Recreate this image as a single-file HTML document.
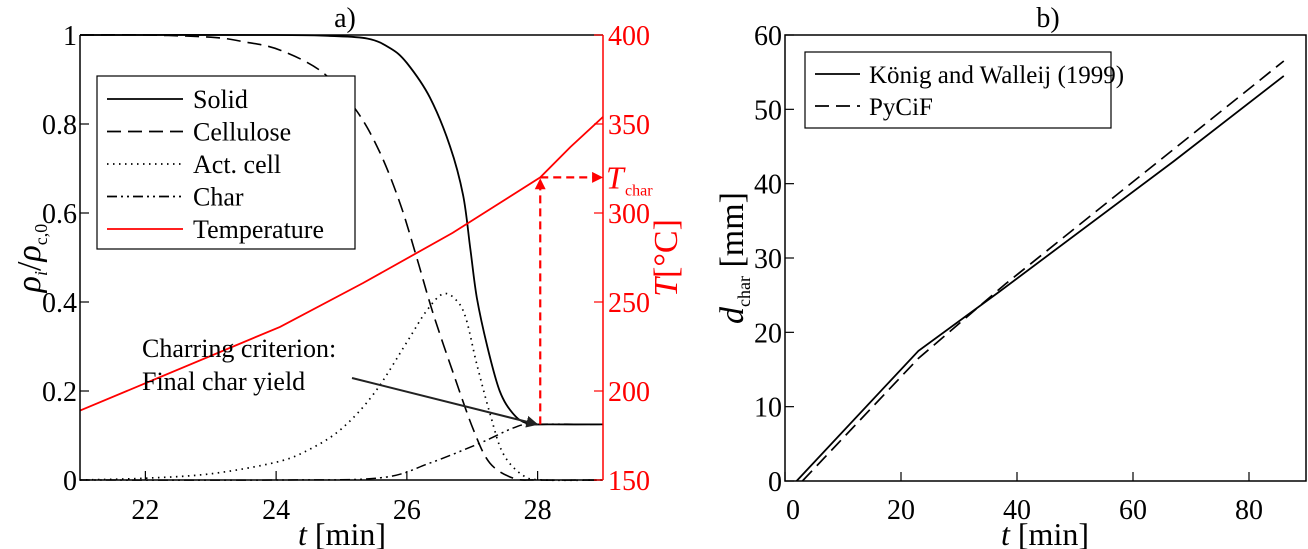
<!DOCTYPE html>
<html><head><meta charset="utf-8"><style>
body{margin:0;background:#fff;}
svg{display:block;font-family:"Liberation Serif",serif;}
</style></head><body>
<svg id="fig" width="1308" height="549" viewBox="0 0 1308 549" xmlns="http://www.w3.org/2000/svg">
<defs>
<marker id="ah" viewBox="0 0 10 10" refX="9" refY="5" markerWidth="6" markerHeight="6" orient="auto"><path d="M0,0L10,5L0,10z" fill="#222"/></marker>
<marker id="ahr" viewBox="0 0 10 10" refX="9" refY="5" markerWidth="5" markerHeight="5" orient="auto"><path d="M0,0L10,5L0,10z" fill="red"/></marker>
</defs>
<g id="left"></g>
<g id="right"></g>
</svg>
<script>
// ---- chart a data ----
const aXTicks = [22, 24, 26, 28];
const aYTicks = [0, 0.2, 0.4, 0.6, 0.8, 1];
const aYTickLabels = ["0", "0.2", "0.4", "0.6", "0.8", "1"];
const aTTicks = [150, 200, 250, 300, 350, 400];
const solidT = [21, 24, 24.8, 25.4, 25.75, 26.0, 26.35, 26.66, 26.86, 26.97, 27.07, 27.23, 27.42, 27.62, 27.84, 28.2, 29];
const solidV = [1, 1, 0.998, 0.992, 0.97, 0.937, 0.86, 0.75, 0.64, 0.52, 0.41, 0.30, 0.20, 0.15, 0.127, 0.125, 0.125];
const celluT = [21, 22, 23, 23.5, 24.06, 24.72, 25.23, 25.59, 25.9, 26.15, 26.4, 26.71, 27.02, 27.27, 27.63, 28, 29];
const celluV = [1, 1, 0.995, 0.985, 0.966, 0.915, 0.83, 0.735, 0.62, 0.5, 0.375, 0.24, 0.112, 0.038, 0.004, 0, 0];
const actT = [21, 22, 23, 24, 24.5, 25, 25.5, 26.0, 26.3, 26.55, 26.75, 26.9, 27.07, 27.27, 27.47, 27.78, 28.1, 29];
const actV = [0, 0.004, 0.014, 0.04, 0.068, 0.115, 0.195, 0.31, 0.38, 0.418, 0.405, 0.365, 0.26, 0.15, 0.06, 0.01, 0, 0];
const charT = [21, 24.06, 25.6, 26.35, 27.12, 27.63, 27.93, 29];
const charV = [0, 0, 0.005, 0.038, 0.083, 0.117, 0.125, 0.125];
const tempT = [21, 24.06, 25.33, 26.7, 28.04, 28.5, 29];
const tempV = [189, 236, 260.7, 288.8, 320, 337, 354];
const charTime = [28.04];
const charYield = [0.125];
const charTemp = [320];
// ---- chart b data ----
const bXTicks = [0, 20, 40, 60, 80];
const bYTicks = [0, 10, 20, 30, 40, 50, 60];
const konigT = [2, 23, 37, 67, 86];
const konigD = [0, 17.5, 25.5, 43, 54.5];
const pycifT = [3, 23, 38, 86];
const pycifD = [0, 16.5, 26.5, 56.5];

const NS = "http://www.w3.org/2000/svg";
function mk(parent, tag, attrs, text) {
  const e = document.createElementNS(NS, tag);
  for (const k in attrs) e.setAttribute(k, attrs[k]);
  if (text !== undefined) e.textContent = text;
  parent.appendChild(e);
  return e;
}
const aL = 80, aR = 603, aTop = 35, aBot = 480;
const ax = t => aL + (t - 21) / 8 * (aR - aL);
const ay = v => aBot - v * (aBot - aTop);
const aty = T => aBot - (T - 150) / 250 * (aBot - aTop);
const L = document.getElementById('left');

function poly(g, xs, ys, fx, fy, style, name, smooth) {
  const P = xs.map((x, i) => [fx(x), fy(ys[i])]);
  let d = 'M' + P[0][0].toFixed(1) + ',' + P[0][1].toFixed(1);
  for (let i = 0; i < P.length - 1; i++) {
    if (!smooth) { d += 'L' + P[i + 1][0].toFixed(1) + ',' + P[i + 1][1].toFixed(1); continue; }
    const p0 = P[Math.max(0, i - 1)], p1 = P[i], p2 = P[i + 1], p3 = P[Math.min(P.length - 1, i + 2)];
    const c1 = [p1[0] + (p2[0] - p0[0]) / 6, p1[1] + (p2[1] - p0[1]) / 6];
    const c2 = [p2[0] - (p3[0] - p1[0]) / 6, p2[1] - (p3[1] - p1[1]) / 6];
    d += 'C' + c1.map(v => v.toFixed(1)).join(',') + ' ' + c2.map(v => v.toFixed(1)).join(',') + ' ' + p2[0].toFixed(1) + ',' + p2[1].toFixed(1);
  }
  const p = mk(g, 'path', Object.assign({d: d, fill: 'none'}, style));
  
  
  return p;
}
poly(L, solidT, solidV, ax, ay, {stroke: '#000', 'stroke-width': 1.8}, 'solid-line', true);
poly(L, celluT, celluV, ax, ay, {stroke: '#000', 'stroke-width': 1.6, 'stroke-dasharray': '14,7'}, 'cellulose-line', true);
poly(L, actT, actV, ax, ay, {stroke: '#000', 'stroke-width': 1.7, 'stroke-dasharray': '1.5,4.5'}, 'act-cell-line', true);
poly(L, charT, charV, ax, ay, {stroke: '#000', 'stroke-width': 1.5, 'stroke-dasharray': '10,4,2,4,2,4'}, 'char-line', true);
poly(L, tempT, tempV, ax, aty, {stroke: 'red', 'stroke-width': 1.8}, 'temperature-line', false);
let e = mk(L, 'path', {d: `M${aL},${aTop}H${aR}M${aL},${aTop}V${aBot}H${aR}`, stroke: '#000', 'stroke-width': 1.5, fill: 'none'});
 
e = mk(L, 'line', {x1: aR, y1: aTop, x2: aR, y2: aBot, stroke: 'red', 'stroke-width': 1.5});
 
aXTicks.forEach(t => {
  mk(L, 'line', {x1: ax(t), x2: ax(t), y1: aBot, y2: aBot - 9, stroke: '#000', 'stroke-width': 1.2});
  e = mk(L, 'text', {x: ax(t), y: 519, 'font-size': 28, 'text-anchor': 'middle'}, String(t));
   
});
aYTicks.forEach((v, i) => {
  mk(L, 'line', {x1: aL, x2: aL + 9, y1: ay(v), y2: ay(v), stroke: '#000', 'stroke-width': 1.2});
  e = mk(L, 'text', {x: aL - 3, y: ay(v) + 10, 'font-size': 28, 'text-anchor': 'end'}, aYTickLabels[i]);
   
});
aTTicks.forEach(T => {
  mk(L, 'line', {x1: aR, x2: aR - 9, y1: aty(T), y2: aty(T), stroke: 'red', 'stroke-width': 1.2});
  e = mk(L, 'text', {x: aR + 5, y: aty(T) + 10, 'font-size': 28, fill: 'red'}, String(T));
   
});
const cx = ax(charTime[0]), cy0 = ay(charYield[0]), cy1 = aty(charTemp[0]);
e = mk(L, 'line', {x1: cx, y1: cy0, x2: cx, y2: cy1 + 2, stroke: 'red', 'stroke-width': 2.2, 'stroke-dasharray': '8,5', 'marker-end': 'url(#ahr)'});
 
e = mk(L, 'line', {x1: cx, y1: cy1, x2: aR - 1, y2: cy1, stroke: 'red', 'stroke-width': 2.2, 'stroke-dasharray': '8,5', 'marker-end': 'url(#ahr)'});
 
e = mk(L, 'text', {x: 606, y: cy1 + 11, 'font-size': 32, fill: 'red', 'font-style': 'italic'}, 'T');
 
mk(L, 'text', {x: 625, y: cy1 + 18, 'font-size': 16, fill: 'red'}, 'char');
e = mk(L, 'line', {x1: 352, y1: 378, x2: cx - 3, y2: cy0, stroke: '#222', 'stroke-width': 2, 'marker-end': 'url(#ah)'});
 
e = mk(L, 'text', {x: 142, y: 357, 'font-size': 26}, 'Charring criterion:');
 
mk(L, 'text', {x: 142, y: 390, 'font-size': 26}, 'Final char yield');
const lg = mk(L, 'g', {});
 
mk(lg, 'rect', {x: 97, y: 76, width: 258, height: 173, fill: '#fff', stroke: '#000', 'stroke-width': 1.2});
const legNames = ['Solid', 'Cellulose', 'Act. cell', 'Char', 'Temperature'];
const legStyles = [{}, {'stroke-dasharray': '14,7'}, {'stroke-dasharray': '1.5,4.5'}, {'stroke-dasharray': '10,4,2,4,2,4'}, {}];
legNames.forEach((n, i) => {
  const y = 99 + i * 32.5;
  const le = mk(lg, 'g', {});
  
  
  mk(le, 'line', Object.assign({x1: 107, x2: 183, y1: y, y2: y, stroke: i == 4 ? 'red' : '#000', 'stroke-width': 1.7}, legStyles[i]));
  mk(le, 'text', {x: 193, y: y + 9, 'font-size': 26}, n);
});
e = mk(L, 'text', {x: 345, y: 27, 'font-size': 28, 'text-anchor': 'middle'}, 'a)');
 
e = mk(L, 'text', {x: 342, y: 545, 'font-size': 32, 'text-anchor': 'middle'});
 
mk(e, 'tspan', {'font-style': 'italic'}, 't'); mk(e, 'tspan', {}, ' [min]');
e = mk(L, 'text', {transform: 'translate(40,258) rotate(-90)', 'font-size': 34, 'text-anchor': 'middle'});
 
mk(e, 'tspan', {'font-style': 'italic'}, 'ρ'); mk(e, 'tspan', {'font-size': 18, 'font-style': 'italic', dy: 7}, 'i');
mk(e, 'tspan', {dy: -7}, '/'); mk(e, 'tspan', {'font-style': 'italic'}, 'ρ'); mk(e, 'tspan', {'font-size': 18, dy: 7}, 'c,0');
e = mk(L, 'text', {transform: 'translate(677,258) rotate(-90)', 'font-size': 34, 'text-anchor': 'middle', fill: 'red'});
 
mk(e, 'tspan', {'font-style': 'italic'}, 'T'); mk(e, 'tspan', {}, '[°C]');

// ---- chart b ----
const bL = 785, bR = 1306, bTop = 35, bBot = 481;
const bx = t => bL + t * 5.8;
const by = d => bBot - d / 60 * (bBot - bTop);
const R = document.getElementById('right');
poly(R, konigT, konigD, bx, by, {stroke: '#000', 'stroke-width': 1.8}, 'konig-line', false);
poly(R, pycifT, pycifD, bx, by, {stroke: '#000', 'stroke-width': 1.7, 'stroke-dasharray': '14,7'}, 'pycif-line', false);
e = mk(R, 'rect', {x: bL, y: bTop, width: bR - bL, height: bBot - bTop, fill: 'none', stroke: '#000', 'stroke-width': 1.5});
 
bXTicks.forEach(t => {
  mk(R, 'line', {x1: bx(t), x2: bx(t), y1: bBot, y2: bBot - 9, stroke: '#000', 'stroke-width': 1.2});
  e = mk(R, 'text', {x: bx(t) + (t === 0 ? 8 : 0), y: 519, 'font-size': 28, 'text-anchor': 'middle'}, String(t));
   
});
bYTicks.forEach(d => {
  mk(R, 'line', {x1: bL, x2: bL + 9, y1: by(d), y2: by(d), stroke: '#000', 'stroke-width': 1.2});
  e = mk(R, 'text', {x: bL - 3, y: by(d) + 10, 'font-size': 28, 'text-anchor': 'end'}, String(d));
   
});
const lb = mk(R, 'g', {});
 
mk(lb, 'rect', {x: 805, y: 52, width: 306, height: 76, fill: '#fff', stroke: '#000', 'stroke-width': 1.2});
['König and Walleij (1999)', 'PyCiF'].forEach((n, i) => {
  const y = 74 + i * 32;
  const le = mk(lb, 'g', {});
  
  
  mk(le, 'line', Object.assign({x1: 815, x2: 860, y1: y, y2: y, stroke: '#000', 'stroke-width': 1.7}, i ? {'stroke-dasharray': '14,7'} : {}));
  mk(le, 'text', {x: 869, y: y + 9, 'font-size': 25}, n);
});
e = mk(R, 'text', {x: 1048, y: 27, 'font-size': 28, 'text-anchor': 'middle'}, 'b)');
 
e = mk(R, 'text', {x: 1045, y: 545, 'font-size': 32, 'text-anchor': 'middle'});
 
mk(e, 'tspan', {'font-style': 'italic'}, 't'); mk(e, 'tspan', {}, ' [min]');
e = mk(R, 'text', {transform: 'translate(743,258) rotate(-90)', 'font-size': 34, 'text-anchor': 'middle'});
 
mk(e, 'tspan', {'font-style': 'italic'}, 'd'); mk(e, 'tspan', {'font-size': 18, dy: 7}, 'char');
mk(e, 'tspan', {dy: -7}, ' [mm]');
</script>
</body></html>
